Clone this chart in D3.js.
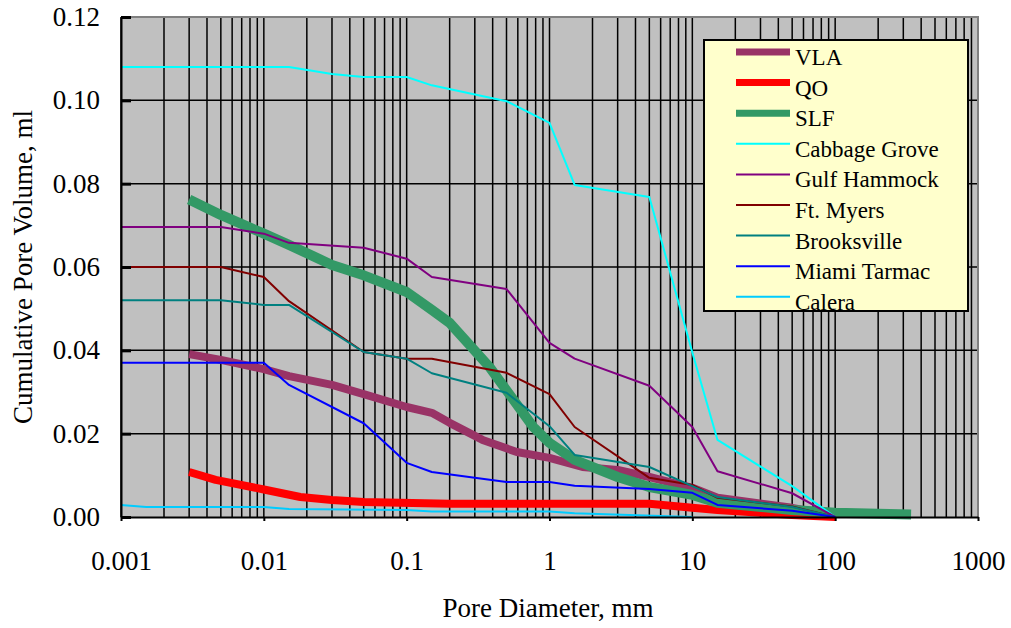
<!DOCTYPE html>
<html>
<head>
<meta charset="utf-8">
<script src="https://cdn.jsdelivr.net/npm/d3@7/dist/d3.min.js"></script>
<style>
  html, body { margin: 0; padding: 0; background: #fff; }
  svg text { font-family: "Liberation Serif", "Times New Roman", serif; fill: #000; }
</style>
</head>
<body>
<svg id="chart" width="1011" height="628"></svg>
<script>
// Pore size distributions: cumulative pore volume (ml) vs pore diameter (mm)
const seriesNames = ["VLA", "QO", "SLF", "Cabbage Grove", "Gulf Hammock", "Ft. Myers", "Brooksville", "Miami Tarmac", "Calera"];
const seriesColors = ["#993366", "#FF0000", "#339966", "#00FFFF", "#800080", "#800000", "#008080", "#0000FF", "#00CCFF"];
const seriesWidths = [8, 8, 10, 2, 2, 2, 2, 2, 2];

const vlaDiameter = [0.003, 0.005, 0.01, 0.015, 0.03, 0.05, 0.1, 0.15, 0.2, 0.34, 0.59, 1, 1.7, 3, 5, 10, 15, 50, 100];
const vlaVolume   = [0.0391, 0.0377, 0.0355, 0.0338, 0.0317, 0.0295, 0.0264, 0.0250, 0.0226, 0.0185, 0.0156, 0.0142, 0.0120, 0.0113, 0.0096, 0.0070, 0.0046, 0.0022, 0.0003];

const qoDiameter = [0.003, 0.0046, 0.01, 0.018, 0.03, 0.05, 0.09, 0.2, 1, 5, 10, 15, 50, 100];
const qoVolume   = [0.0108, 0.0089, 0.0066, 0.0048, 0.0041, 0.0036, 0.0034, 0.0032, 0.0032, 0.0032, 0.0022, 0.0017, 0.0005, 0.0];

const slfDiameter = [0.003, 0.005, 0.01, 0.015, 0.03, 0.05, 0.1, 0.15, 0.2, 0.38, 0.77, 1, 1.5, 3, 5, 10, 15, 50, 100, 340];
const slfVolume   = [0.0762, 0.0725, 0.0680, 0.0653, 0.0605, 0.0580, 0.0540, 0.0497, 0.0466, 0.0360, 0.0216, 0.0178, 0.0137, 0.0096, 0.0072, 0.0053, 0.0034, 0.0017, 0.0010, 0.0006];

const cabbageDiameter = [0.001, 0.015, 0.03, 0.05, 0.1, 0.15, 0.5, 1, 1.5, 5, 10, 15, 50, 100];
const cabbageVolume   = [0.108, 0.108, 0.1063, 0.1056, 0.1056, 0.1036, 0.0998, 0.0946, 0.0797, 0.0768, 0.0395, 0.0185, 0.0074, 0.0];

const gulfDiameter = [0.001, 0.005, 0.01, 0.015, 0.05, 0.1, 0.15, 0.5, 1, 1.5, 5, 10, 15, 50, 100];
const gulfVolume   = [0.0696, 0.0696, 0.0680, 0.0658, 0.0646, 0.0620, 0.0576, 0.0547, 0.0418, 0.0380, 0.0315, 0.0216, 0.0110, 0.0057, 0.0];

const myersDiameter = [0.001, 0.005, 0.01, 0.015, 0.05, 0.1, 0.15, 0.5, 1, 1.5, 5, 10, 15, 50, 100];
const myersVolume   = [0.0600, 0.0600, 0.0576, 0.0518, 0.0396, 0.0380, 0.0380, 0.0346, 0.0295, 0.0216, 0.0094, 0.0077, 0.0046, 0.0025, 0.0];

const brooksDiameter = [0.001, 0.005, 0.01, 0.015, 0.05, 0.1, 0.15, 0.5, 1, 1.5, 5, 10, 15, 50, 100];
const brooksVolume   = [0.0520, 0.0520, 0.0509, 0.0509, 0.0396, 0.0380, 0.0345, 0.0298, 0.0218, 0.0149, 0.0120, 0.0074, 0.0048, 0.0024, 0.0];

const miamiDiameter = [0.001, 0.01, 0.015, 0.05, 0.1, 0.15, 0.5, 1, 1.5, 5, 10, 15, 50, 100];
const miamiVolume   = [0.0370, 0.0370, 0.0317, 0.0225, 0.0130, 0.0108, 0.0084, 0.0084, 0.0075, 0.0067, 0.0058, 0.0029, 0.0015, 0.0];

const caleraDiameter = [0.001, 0.0015, 0.01, 0.015, 0.1, 0.15, 1, 1.5, 10];
const caleraVolume   = [0.0029, 0.0024, 0.0024, 0.0019, 0.0017, 0.0013, 0.0013, 0.0009, 0.0];

const xTickValues = [0.001, 0.01, 0.1, 1, 10, 100, 1000];
const xTickLabels = ["0.001", "0.01", "0.1", "1", "10", "100", "1000"];
const yTickValues = [0, 0.02, 0.04, 0.06, 0.08, 0.10, 0.12];

const diameters = [vlaDiameter, qoDiameter, slfDiameter, cabbageDiameter, gulfDiameter, myersDiameter, brooksDiameter, miamiDiameter, caleraDiameter];
const volumes   = [vlaVolume, qoVolume, slfVolume, cabbageVolume, gulfVolume, myersVolume, brooksVolume, miamiVolume, caleraVolume];

const series = seriesNames.map((name, i) => ({
  name,
  color: seriesColors[i],
  width: seriesWidths[i],
  points: diameters[i].map((d, j) => ({ d, v: volumes[i][j] }))
}));

const plot = { left: 121, right: 978, top: 17, bottom: 517 };
const svg = d3.select("#chart");

const x = d3.scaleLog().domain([0.001, 1000]).range([plot.left, plot.right]);
const y = d3.scaleLinear().domain([0, 0.12]).range([plot.bottom, plot.top]);

// plot background
svg.append("rect")
  .attr("x", plot.left).attr("y", plot.top)
  .attr("width", plot.right - plot.left).attr("height", plot.bottom - plot.top)
  .attr("fill", "#C0C0C0");

// log grid: every 1..9 x 10^k
const gridX = [];
for (let k = -3; k <= 2; k++) for (let m = 1; m <= 9; m++) gridX.push(m * Math.pow(10, k));
gridX.push(1000);

const grid = svg.append("g").attr("stroke", "#000").attr("stroke-width", 1.5);
grid.selectAll("line.vx").data(gridX).join("line")
  .attr("x1", d => x(d)).attr("x2", d => x(d))
  .attr("y1", plot.top).attr("y2", plot.bottom);
grid.selectAll("line.hy").data(yTickValues.filter(v => v > 0 && v < 0.12)).join("line")
  .attr("x1", plot.left).attr("x2", plot.right)
  .attr("y1", d => y(d)).attr("y2", d => y(d));

// top and right border of plot area
svg.append("path")
  .attr("d", `M${plot.left},${plot.top}H${plot.right}V${plot.bottom}`)
  .attr("fill", "none").attr("stroke", "#808080").attr("stroke-width", 2);

// series lines
const line = d3.line().x(p => x(p.d)).y(p => y(p.v));
svg.append("g").selectAll("path").data(series).join("path")
  .attr("d", s => line(s.points))
  .attr("fill", "none")
  .attr("stroke", s => s.color)
  .attr("stroke-width", s => s.width)
  .attr("stroke-linejoin", "round")
  .attr("stroke-linecap", "butt");

// axes
const yAxis = d3.axisLeft(y).tickValues(yTickValues).tickFormat(d3.format(".2f"))
  .tickSizeInner(-10).tickSizeOuter(0).tickPadding(21);
const gy = svg.append("g").attr("transform", `translate(${plot.left},0)`).call(yAxis);
gy.selectAll(".tick line").attr("stroke", "#000").attr("stroke-width", 3);
gy.select(".domain").attr("stroke", "#000").attr("stroke-width", 2);
gy.selectAll("text").attr("font-size", 27).attr("font-family", "Liberation Serif, Times New Roman, serif");

const xAxis = d3.axisBottom(x).tickValues(xTickValues).tickFormat((d, i) => xTickLabels[i])
  .tickSizeInner(4).tickSizeOuter(0).tickPadding(30);
const gx = svg.append("g").attr("transform", `translate(0,${plot.bottom})`).call(xAxis);
gx.selectAll(".tick line").attr("stroke", "#000").attr("stroke-width", 2);
gx.select(".domain").attr("stroke", "#000").attr("stroke-width", 2);
gx.selectAll("text").attr("font-size", 27).attr("font-family", "Liberation Serif, Times New Roman, serif");

// axis titles
svg.append("text")
  .attr("x", 548).attr("y", 617)
  .attr("text-anchor", "middle").attr("font-size", 27)
  .text("Pore Diameter, mm");
svg.append("text")
  .attr("transform", "translate(32,267) rotate(-90)")
  .attr("text-anchor", "middle").attr("font-size", 27)
  .text("Cumulative Pore Volume, ml");

// legend
const legend = svg.append("g");
legend.append("rect")
  .attr("x", 704).attr("y", 40).attr("width", 264).attr("height", 271)
  .attr("fill", "#FFFFCC").attr("stroke", "#000").attr("stroke-width", 2);
const rows = legend.selectAll("g.row").data(series).join("g")
  .attr("transform", (s, i) => `translate(0,${52 + i * 30.6})`);
rows.append("line")
  .attr("x1", 736).attr("x2", 790).attr("y1", 0).attr("y2", 0)
  .attr("stroke", s => s.color)
  .attr("stroke-width", s => s.width > 2 ? 7 : 2);
rows.append("text")
  .attr("x", 795).attr("y", 13)
  .attr("font-size", 23)
  .text(s => s.name);
</script>
</body>
</html>
